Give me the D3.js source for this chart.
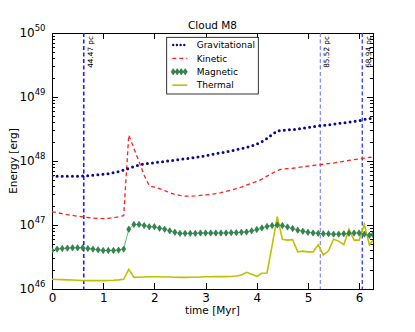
<!DOCTYPE html>
<meta charset="utf-8">
<style>
body { margin: 0; background: #fff; }
text { font-family: "DejaVu Sans", sans-serif; fill: #000; }
.axis path { display: none; }
.axis line { stroke: #000; shape-rendering: crispEdges; }
</style>
<body>
<script src="https://cdn.jsdelivr.net/npm/d3@7/dist/d3.min.js"></script>
<script>

// time in Myr, one snapshot every ~0.1 Myr
var times = [0, 0.1, 0.2, 0.3, 0.4, 0.5, 0.6, 0.7, 0.8, 0.9,
             1.0, 1.1, 1.2, 1.3, 1.4, 1.5, 1.6, 1.7, 1.8, 1.9,
             2.0, 2.1, 2.2, 2.3, 2.4, 2.5, 2.6, 2.7, 2.8, 2.9,
             3.0, 3.1, 3.2, 3.3, 3.4, 3.5, 3.6, 3.7, 3.8, 3.9,
             4.0, 4.1, 4.2, 4.3, 4.4, 4.5, 4.6, 4.7, 4.8, 4.9,
             5.0, 5.1, 5.2, 5.3, 5.4, 5.5, 5.6, 5.7, 5.8, 5.9,
             6.0, 6.1, 6.2, 6.27];

// energies in erg
var gravitational = [5.8e47, 5.8e47, 5.8e47, 5.8e47, 5.8e47, 5.8e47, 5.85e47, 5.9e47, 6.0e47, 6.1e47,
                     6.2e47, 6.35e47, 6.55e47, 6.8e47, 7.2e47, 7.7e47, 8.2e47, 8.6e47, 9.0e47, 9.2e47,
                     9.4e47, 9.6e47, 9.85e47, 1.01e48, 1.03e48, 1.06e48, 1.08e48, 1.11e48, 1.14e48, 1.17e48,
                     1.21e48, 1.25e48, 1.30e48, 1.34e48, 1.39e48, 1.44e48, 1.50e48, 1.56e48, 1.63e48, 1.72e48,
                     1.84e48, 2.0e48, 2.25e48, 2.6e48, 2.95e48, 3.0e48, 3.05e48, 3.1e48, 3.15e48, 3.25e48,
                     3.35e48, 3.45e48, 3.53e48, 3.6e48, 3.67e48, 3.75e48, 3.85e48, 3.95e48, 4.05e48, 4.15e48,
                     4.25e48, 4.45e48, 4.6e48, 4.7e48];

var kinetic = [1.62e47, 1.56e47, 1.50e47, 1.45e47, 1.41e47, 1.37e47, 1.34e47, 1.31e47, 1.28e47, 1.27e47,
               1.26e47, 1.27e47, 1.30e47, 1.34e47, 1.40e47, 2.55e48, 1.58e48, 9.8e47, 6.0e47, 4.1e47,
               3.9e47, 3.7e47, 3.45e47, 3.2e47, 3.0e47, 2.9e47, 2.82e47, 2.82e47, 2.85e47, 2.9e47,
               2.95e47, 3.0e47, 3.1e47, 3.2e47, 3.35e47, 3.5e47, 3.7e47, 3.9e47, 4.2e47, 4.5e47,
               4.8e47, 5.2e47, 5.8e47, 6.4e47, 7.1e47, 7.5e47, 7.6e47, 7.7e47, 7.9e47, 8.1e47,
               8.3e47, 8.5e47, 8.7e47, 8.9e47, 9.1e47, 9.3e47, 9.6e47, 9.9e47, 1.02e48, 1.05e48,
               1.08e48, 1.11e48, 1.14e48, 1.16e48];

var magnetic = [4.0e46, 4.2e46, 4.3e46, 4.35e46, 4.4e46, 4.4e46, 4.4e46, 4.3e46, 4.2e46, 4.1e46,
                4.0e46, 4.0e46, 4.0e46, 4.05e46, 4.2e46, 8.6e46, 1.02e47, 1.02e47, 9.8e46, 9.4e46,
                9.4e46, 8.9e46, 8.6e46, 8.1e46, 7.7e46, 7.4e46, 7.4e46, 7.4e46, 7.4e46, 7.5e46,
                7.5e46, 7.5e46, 7.5e46, 7.5e46, 7.5e46, 7.6e46, 7.6e46, 7.7e46, 7.8e46, 8.1e46,
                8.5e46, 9.0e46, 9.5e46, 9.8e46, 1.0e47, 9.8e46, 9.3e46, 8.8e46, 8.3e46, 8.0e46,
                7.7e46, 7.5e46, 7.4e46, 7.3e46, 7.3e46, 7.2e46, 7.2e46, 7.3e46, 7.4e46, 7.5e46,
                7.5e46, 7.2e46, 6.9e46, 7.1e46];

var thermal = [1.42e46, 1.41e46, 1.40e46, 1.39e46, 1.38e46, 1.37e46, 1.36e46, 1.35e46, 1.35e46, 1.35e46,
               1.35e46, 1.36e46, 1.37e46, 1.39e46, 1.42e46, 2.03e46, 1.52e46, 1.53e46, 1.54e46, 1.55e46,
               1.55e46, 1.55e46, 1.54e46, 1.54e46, 1.53e46, 1.52e46, 1.52e46, 1.53e46, 1.53e46, 1.54e46,
               1.55e46, 1.55e46, 1.56e46, 1.56e46, 1.56e46, 1.57e46, 1.60e46, 1.65e46, 1.82e46, 1.70e46,
               1.58e46, 1.76e46, 1.78e46, 4.8e46, 1.35e47, 6.0e46, 5.8e46, 5.9e46, 3.8e46, 3.9e46,
               3.8e46, 3.8e46, 4.9e46, 3.4e46, 3.95e46, 6.0e46, 5.6e46, 4.9e46, 8.6e46, 5.8e46,
               5.8e46, 1.02e47, 4.9e46, 5.8e46];

// marked snapshots (time, label)
var markTimes = [0.62, 5.24, 6.06];
var markLabels = ["44.47 pc", "85.52 pc", "68.94 pc"];

var xTicks = [0, 1, 2, 3, 4, 5, 6];
var yMajor = [1e46, 1e47, 1e48, 1e49, 1e50];
var yExp = ["46", "47", "48", "49", "50"];

// set the dimensions and margins of the graph
var margin = {top: 33, right: 42, bottom: 43, left: 52},
    width = 415 - margin.left - margin.right,
    height = 332 - margin.top - margin.bottom;

var x = d3.scaleLinear().domain([0, 6.27]).range([0, width]);
var y = d3.scaleLog().domain([1e46, 1e50]).range([height, 0]);

// minor log ticks 2..9 per decade
var yMinor = [];
yMajor.slice(0, -1).forEach(function(d) {
  for (var k = 2; k <= 9; k++) yMinor.push(d * k);
});

var svg = d3.select("body").append("svg")
    .attr("width", width + margin.left + margin.right)
    .attr("height", height + margin.top + margin.bottom)
  .append("g")
    .attr("transform", "translate(" + margin.left + "," + margin.top + ")");

svg.append("clipPath").attr("id", "clip")
  .append("rect").attr("width", width).attr("height", height);

// axes, ticks pointing inward on all four sides
svg.append("g").attr("class", "axis")
    .attr("transform", "translate(0," + height + ")")
    .call(d3.axisBottom(x).tickValues(xTicks).tickSizeInner(-6).tickSizeOuter(0).tickPadding(4).tickFormat(d3.format("d")))
    .selectAll("text").style("font-size", "12px").style("font-family", "DejaVu Sans");

svg.append("g").attr("class", "axis")
    .call(d3.axisTop(x).tickValues(xTicks).tickSizeInner(-6).tickSizeOuter(0).tickFormat(""));

svg.append("g").attr("class", "axis")
    .call(d3.axisLeft(y).tickValues(yMajor).tickSizeInner(-6).tickSizeOuter(0).tickFormat(""));
svg.append("g").attr("class", "axis")
    .call(d3.axisLeft(y).tickValues(yMinor).tickSizeInner(-3).tickSizeOuter(0).tickFormat(""));
svg.append("g").attr("class", "axis")
    .attr("transform", "translate(" + width + ",0)")
    .call(d3.axisRight(y).tickValues(yMajor).tickSizeInner(-6).tickSizeOuter(0).tickFormat(""));
svg.append("g").attr("class", "axis")
    .attr("transform", "translate(" + width + ",0)")
    .call(d3.axisRight(y).tickValues(yMinor).tickSizeInner(-3).tickSizeOuter(0).tickFormat(""));

// y labels as 10^n
var ylab = svg.append("g").selectAll("text")
    .data(yMajor)
  .enter().append("text")
    .attr("x", -6.5)
    .attr("y", function(d) { return y(d) + 4.3; })
    .attr("text-anchor", "end")
    .style("font-size", "12px");
ylab.append("tspan").text("10");
ylab.append("tspan")
    .attr("dy", -6.6)
    .style("font-size", "8.5px")
    .text(function(d, i) { return yExp[i]; });

// frame
svg.append("rect")
    .attr("width", width).attr("height", height)
    .attr("fill", "none").attr("stroke", "#000").attr("stroke-width", 1)
    .style("shape-rendering", "crispEdges");

var plot = svg.append("g").attr("clip-path", "url(#clip)");

function lineFor(values) {
  return d3.line()
    .x(function(d, i) { return x(times[i]); })
    .y(function(d) { return y(d); })(values);
}

// marked snapshots
var markColors = ["#1f1ff5", "#6b6bff", "#3434ff"];
var markWidths = [1.6, 1, 1.3];
plot.selectAll(".mark")
    .data(markTimes)
  .enter().append("line")
    .attr("class", "mark")
    .attr("x1", function(d) { return x(d); })
    .attr("x2", function(d) { return x(d); })
    .attr("y1", 0).attr("y2", height)
    .attr("stroke", function(d, i) { return markColors[i]; })
    .attr("stroke-width", function(d, i) { return markWidths[i]; })
    .attr("stroke-dasharray", "4,2.5");

svg.selectAll(".marklabel")
    .data(markTimes)
  .enter().append("text")
    .attr("class", "marklabel")
    .attr("transform", function(d) { return "translate(" + (x(d) + 9) + ",3) rotate(-90)"; })
    .attr("text-anchor", "end")
    .style("font-size", "7.3px")
    .text(function(d, i) { return markLabels[i]; });

// thermal
plot.append("path")
    .attr("d", lineFor(thermal))
    .attr("fill", "none").attr("stroke", "#c0c000").attr("stroke-width", 1.6);

// magnetic line + thin diamonds
plot.append("path")
    .attr("d", lineFor(magnetic))
    .attr("fill", "none").attr("stroke", "#5fbf80").attr("stroke-width", 1);

function diamond(cx, cy) {
  return "M" + cx + "," + (cy - 3.2) + "L" + (cx + 2.1) + "," + cy +
         "L" + cx + "," + (cy + 3.2) + "L" + (cx - 2.1) + "," + cy + "Z";
}
plot.selectAll(".dia")
    .data(magnetic)
  .enter().append("path")
    .attr("class", "dia")
    .attr("d", function(d, i) { return diamond(x(times[i]), y(d)); })
    .attr("fill", "#2d8a4c").attr("stroke", "#1c5e32").attr("stroke-width", 0.5);

// kinetic
plot.append("path")
    .attr("d", lineFor(kinetic))
    .attr("fill", "none").attr("stroke", "#ff2020").attr("stroke-width", 1.3)
    .attr("stroke-dasharray", "4,3");

// gravitational
plot.append("path")
    .attr("d", lineFor(gravitational))
    .attr("fill", "none").attr("stroke", "#0a0a8c").attr("stroke-width", 3)
    .attr("stroke-linecap", "round")
    .attr("stroke-dasharray", "0,5.1");

// title and axis labels
svg.append("text")
    .attr("x", width / 2).attr("y", -3.7)
    .attr("text-anchor", "middle")
    .style("font-size", "10.5px")
    .text("Cloud M8");

svg.append("text")
    .attr("x", width / 2).attr("y", height + 24.5)
    .attr("text-anchor", "middle")
    .style("font-size", "10.5px")
    .text("time [Myr]");

svg.append("text")
    .attr("transform", "translate(-35," + (height / 2) + ") rotate(-90)")
    .attr("text-anchor", "middle")
    .style("font-size", "10.5px")
    .text("Energy [erg]");

// legend
var legendNames = ["Gravitational", "Kinetic", "Magnetic", "Thermal"];
var legend = svg.append("g").attr("transform", "translate(114.7,4.3)");
legend.append("rect")
    .attr("width", 91.6).attr("height", 56.7)
    .attr("fill", "#fff").attr("stroke", "#000").attr("stroke-width", 0.8);

var rows = legend.selectAll(".row")
    .data(legendNames)
  .enter().append("g")
    .attr("class", "row")
    .attr("transform", function(d, i) { return "translate(0," + (7.7 + i * 13.4) + ")"; });

rows.append("text")
    .attr("x", 30).attr("y", 3.2)
    .style("font-size", "9px")
    .text(function(d) { return d; });

rows.filter(function(d) { return d === "Gravitational"; }).append("line")
    .attr("x1", 6.5).attr("x2", 20.5)
    .attr("stroke", "#0a0a8c").attr("stroke-width", 2.4)
    .attr("stroke-linecap", "round").attr("stroke-dasharray", "0,3.7");
rows.filter(function(d) { return d === "Kinetic"; }).append("line")
    .attr("x1", 5.6).attr("x2", 20.6)
    .attr("stroke", "#ff2020").attr("stroke-width", 1.3)
    .attr("stroke-dasharray", "4,3");
rows.filter(function(d) { return d === "Magnetic"; }).each(function() {
  var g = d3.select(this);
  g.append("line").attr("x1", 5.6).attr("x2", 20.6)
    .attr("stroke", "#5fbf80").attr("stroke-width", 1);
  [6.5, 10.5, 14.5, 18.5].forEach(function(cx) {
    g.append("path").attr("d", diamond(cx, 0))
      .attr("fill", "#2d8a4c").attr("stroke", "#1c5e32").attr("stroke-width", 0.5);
  });
});
rows.filter(function(d) { return d === "Thermal"; }).append("line")
    .attr("x1", 5.6).attr("x2", 20.6)
    .attr("stroke", "#c0c000").attr("stroke-width", 1.6);

</script>
</body>
